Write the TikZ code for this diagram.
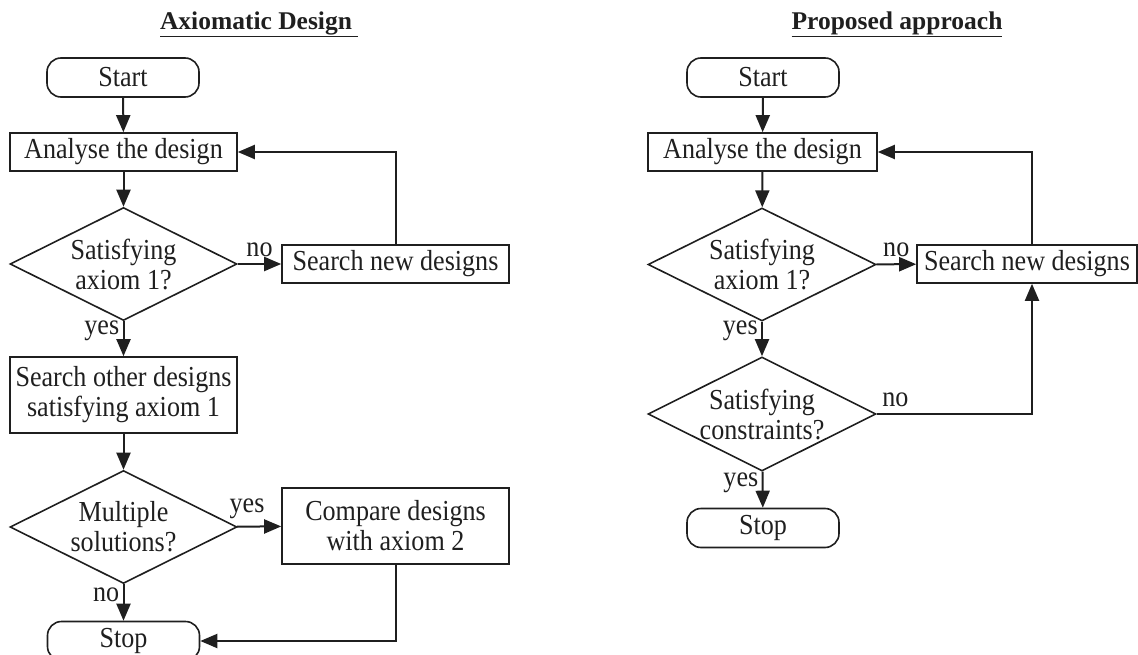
\documentclass[tikz,border=0pt]{standalone}
\usepackage{fontspec}
\setmainfont{Liberation Serif}
\newfontfamily\bodyfont[FakeStretch=0.9]{Liberation Serif}
\usetikzlibrary{shapes.geometric,arrows.meta}
\begin{document}
\begin{tikzpicture}[x=1pt,y=-1pt,
  every node/.style={font=\bodyfont\fontsize{29}{30}\selectfont, text=black!88},
  ttl/.style={font=\rmfamily\fontsize{25.5}{27}\selectfont\bfseries},
  proc/.style={draw=black!88, line width=1.6pt, inner sep=0pt, align=center, minimum width=227pt},
  term/.style={draw=black!88, line width=1.6pt, rounded corners=14pt, inner sep=0pt, minimum width=152pt, minimum height=39pt},
  dia/.style={draw=black!88, diamond, line width=1.6pt, inner sep=0pt, minimum width=227pt, minimum height=113pt},
  arr/.style={draw=black!88, line width=2pt, -{Triangle[length=17pt,width=14pt]}},
  txt/.style={align=center, inner sep=0pt},
]
\useasboundingbox (0,0) rectangle (1138,655);
% titles
\node[ttl] (t1) at (259,24) {\underline{Axiomatic Design\kern6pt}};
\node[ttl] (t2) at (897,24) {\underline{Proposed approach}};
% left flow
\node[term] (s1) at (123,77.5) {Start};
\node[proc, minimum height=38pt] (a1) at (123.5,152) {Analyse the design};
\node[dia] (d1) at (123.5,264) {};
\node[txt] (d1t) at (d1) {Satisfying\\axiom 1?};
\node[proc, minimum height=38pt] (n1) at (395.5,264) {Search new designs};
\node[proc, minimum height=76pt] (o1) at (123.5,395) {Search other designs\\satisfying axiom 1};
\node[dia] (m1) at (123.5,527) {};
\node[txt] (m1t) at (m1) {Multiple\\solutions?};
\node[proc, minimum height=76pt] (c1) at (395.5,526) {Compare designs\\with axiom 2};
\node[term] (e1) at (123.5,641) {Stop};
\draw[arr] (s1) -- (a1);
\draw[arr] (a1) -- (d1);
\draw[arr] (d1) -- node[above=3pt]{no} (n1);
\draw[arr] (n1.north) |- (a1.east);
\draw[arr] (d1) -- node[left, pos=0.27]{yes} (o1);
\draw[arr] (o1) -- (m1);
\draw[arr] (m1) -- node[above=3pt, xshift=-12pt]{yes} (c1);
\draw[arr] (m1) -- node[left, pos=0.3]{no} (e1);
\draw[arr] (c1.south) |- (e1.east);
% right flow
\node[term] (s2) at (763,77.5) {Start};
\node[proc, minimum width=229pt, minimum height=38pt] (a2) at (762.5,152) {Analyse the design};
\node[dia, minimum width=228pt] (d3) at (762,264.5) {};
\node[txt] (d3t) at (d3) {Satisfying\\axiom 1?};
\node[proc, minimum width=220pt, minimum height=38pt] (n2) at (1027,264) {Search new designs};
\node[dia, minimum width=228pt, minimum height=114pt] (d4) at (762,414) {};
\node[txt] (d4t) at (d4) {Satisfying\\constraints?};
\node[term] (e2) at (763,528) {Stop};
\draw[arr] (s2) -- (a2);
\draw[arr] (a2) -- (d3);
\draw[arr] (d3) -- node[above=3pt]{no} (n2);
\draw[arr] ([xshift=5pt]n2.north) |- (a2.east);
\draw[arr] (d3) -- node[left, pos=0.27]{yes} (d4);
\draw[arr] (d4.east) -| node[pos=0.06, above=3pt]{no} ([xshift=5pt]n2.south);
\draw[arr] (d4) -- node[left, pos=0.3]{yes} (e2);
\end{tikzpicture}
\end{document}
